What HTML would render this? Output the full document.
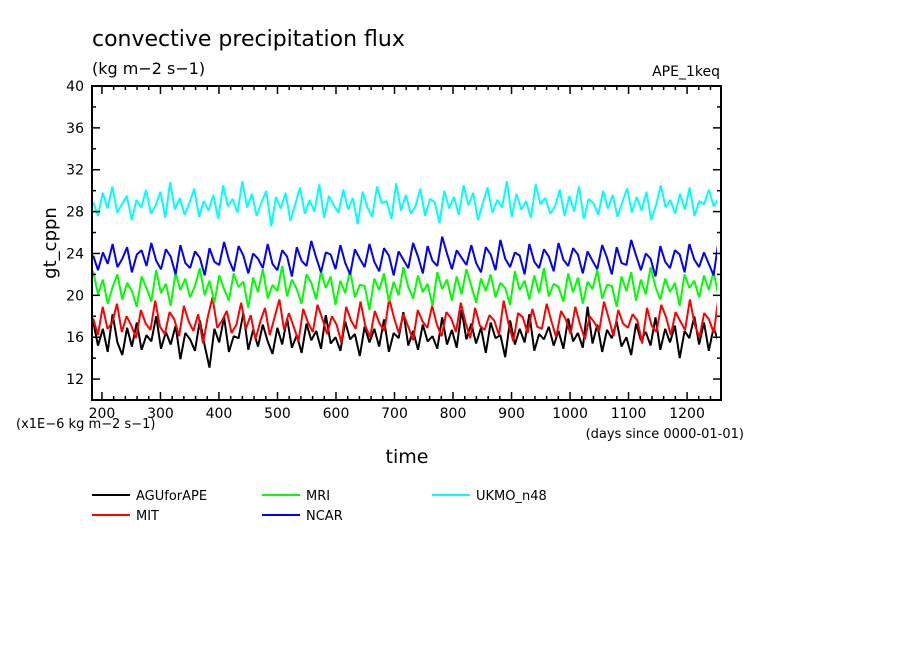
<!DOCTYPE html>
<html><head><meta charset="utf-8"><style>
body{margin:0;background:#fff;width:904px;height:654px;overflow:hidden}
svg{font-family:"DejaVu Sans","Liberation Sans",sans-serif}
</style></head><body>
<svg id="c" width="904" height="654">
<text x="92" y="46" font-size="22">convective precipitation flux</text>
<text x="92" y="74" font-size="16">(kg m−2 s−1)</text>
<text x="720" y="76" font-size="14" text-anchor="end">APE_1keq</text>
<text transform="translate(56,243) rotate(-90)" font-size="18" text-anchor="middle">gt_cppn</text>
<text x="407" y="463" font-size="19" text-anchor="middle">time</text>
<text x="16" y="428" font-size="13">(x1E−6 kg m−2 s−1)</text>
<text x="744" y="438" font-size="13" text-anchor="end">(days since 0000-01-01)</text>
<g id="series"></g>
<g id="axes"></g>
<g id="legend"></g>
</svg>
<script>
const yTicks=[12,16,20,24,28,32,36,40];
const xTicks=[200,300,400,500,600,700,800,900,1000,1100,1200];
const seriesNames=["AGUforAPE","MIT","MRI","NCAR","UKMO_n48"];
const seriesColors=["#000","#f00","#0f0","#00f","#0ff"];
const dayStart=185, dayEnd=1262;
const agu=[17.5,15.2,16.8,14.6,18.2,15.5,14.3,16.9,15.1,17.4,14.8,16.2,15.6,18.0,14.9,16.5,15.3,17.1,13.9,16.4,15.8,14.7,17.6,15.2,13.1,16.8,15.5,17.9,14.6,16.1,15.9,18.3,14.8,16.7,15.1,17.2,15.6,14.4,16.9,15.3,17.8,15.0,16.2,14.5,17.3,15.7,16.6,14.9,18.1,15.4,16.0,14.7,17.5,15.8,16.3,14.2,17.0,15.5,16.8,15.1,17.7,14.6,16.4,15.9,18.4,15.2,16.6,14.8,17.2,15.6,16.1,14.9,17.9,15.3,16.7,15.0,18.6,15.8,17.3,15.4,16.9,14.5,17.4,15.9,16.2,14.1,17.6,15.3,16.8,15.5,18.2,14.7,16.3,15.8,17.0,15.2,16.6,14.9,17.8,15.6,16.4,15.0,18.9,15.4,17.2,14.6,16.7,15.9,17.5,15.1,16.0,14.3,17.3,15.7,16.5,15.2,17.9,14.8,16.8,15.5,17.1,14.0,16.6,15.9,18.0,15.3,17.4,14.7,16.9,15.6,17.7];
const mit=[17.8,16.2,18.9,16.8,17.4,19.2,16.5,18.0,17.1,15.9,18.6,17.3,16.7,19.5,17.0,16.3,18.4,17.7,16.1,19.0,17.5,16.6,18.2,15.4,17.9,19.8,16.9,17.6,18.5,16.4,17.2,19.3,16.8,18.1,15.8,17.5,18.8,16.2,17.9,19.6,16.7,18.3,17.0,15.6,18.7,17.4,16.5,19.1,17.8,16.3,18.0,17.2,15.5,18.9,17.6,16.8,19.4,17.1,16.0,18.5,17.3,16.6,19.7,17.9,16.4,18.2,17.0,15.7,18.6,17.5,16.9,19.0,17.2,16.1,18.4,17.8,16.5,19.3,17.4,15.9,18.8,17.1,16.7,18.1,17.6,16.2,19.5,17.3,15.6,18.3,17.9,16.4,18.7,17.0,16.8,19.2,17.5,16.0,18.5,17.7,16.3,18.9,17.2,15.8,18.0,17.4,16.6,19.4,17.8,16.1,18.6,17.3,16.9,18.2,17.6,15.4,18.8,17.1,16.5,19.1,17.9,16.2,18.4,17.5,16.7,19.6,17.2,16.0,18.3,17.7,16.4,19.9,16.8];
const mri=[22.3,20.1,21.5,19.2,20.8,22.0,19.6,21.2,20.4,18.9,21.8,20.7,19.4,22.4,20.2,21.1,19.0,22.2,20.5,21.6,19.8,20.9,22.6,20.0,21.4,19.3,21.9,20.6,19.5,22.1,20.8,21.3,18.8,21.7,20.3,22.5,19.7,21.0,20.4,22.8,19.9,21.5,20.6,19.2,22.0,21.2,19.6,22.3,20.7,21.8,19.1,21.4,20.2,22.4,19.8,21.0,20.9,18.6,21.6,20.5,22.1,19.4,21.3,20.0,22.7,20.8,19.7,21.9,20.3,21.1,19.0,22.2,20.6,21.5,19.5,21.8,20.1,22.5,20.9,19.3,21.6,20.4,22.0,19.8,21.2,20.7,19.1,22.3,20.5,21.4,19.6,21.9,20.2,22.6,19.9,21.1,20.8,19.4,22.1,20.3,21.7,19.2,21.3,20.6,22.4,19.7,21.0,20.9,18.9,21.8,20.4,22.2,19.5,21.5,20.1,22.7,20.8,19.6,21.6,20.3,21.2,19.0,22.0,20.7,21.4,19.8,21.9,20.5,22.3,19.9,21.1];
const ncar=[23.8,22.4,24.1,23.0,24.9,22.7,23.5,24.6,22.2,23.9,24.3,22.8,25.0,23.3,22.5,24.4,23.7,22.0,24.8,23.1,22.6,24.2,23.6,21.9,24.5,23.2,22.9,25.1,23.4,22.3,24.7,23.8,22.1,24.0,23.5,22.6,24.9,23.0,22.4,24.3,23.7,21.8,24.6,23.3,22.8,25.2,23.6,22.2,24.1,23.9,22.5,24.8,23.1,22.0,24.4,23.5,22.7,24.9,23.2,22.3,24.5,23.8,21.9,24.2,23.4,22.6,25.0,23.7,22.1,24.7,23.3,22.8,25.6,24.0,22.5,24.3,23.6,22.9,24.8,23.1,22.2,24.6,23.9,22.4,25.3,23.5,22.7,24.1,23.8,22.0,24.9,23.2,22.6,24.4,23.7,22.3,25.0,23.4,22.8,24.5,23.9,22.1,24.2,23.3,22.5,24.8,23.6,22.0,24.6,23.1,22.9,25.3,23.8,22.4,24.0,23.5,21.8,24.7,23.2,22.6,24.3,23.9,22.2,24.9,23.4,22.7,24.1,23.0,21.9,25.2,22.1];
const ukmo=[28.9,27.6,29.8,28.3,30.4,27.9,28.7,29.5,27.2,29.1,28.4,30.1,27.8,28.6,29.9,27.4,30.8,28.2,29.3,27.7,28.8,30.2,27.5,29.0,28.1,29.6,27.3,30.5,28.5,29.2,27.9,30.9,28.4,29.7,27.6,28.9,30.0,26.6,29.4,28.3,29.8,27.1,28.7,30.3,27.8,29.1,28.0,30.6,27.4,29.5,28.6,27.9,30.1,28.2,29.3,26.8,29.9,28.4,27.5,30.4,28.8,29.0,27.3,30.7,28.1,29.6,27.8,28.5,30.2,27.6,29.2,28.9,26.9,30.0,28.3,29.4,27.7,30.5,28.6,29.8,27.2,28.8,30.3,27.9,29.1,28.4,30.9,27.5,29.7,28.2,29.0,27.4,30.6,28.7,29.3,27.8,28.5,30.1,27.6,29.5,28.0,30.4,27.3,29.2,28.8,27.7,30.0,28.3,29.6,27.5,28.9,30.2,27.9,29.4,28.1,29.9,27.2,28.6,30.5,28.4,29.1,27.8,29.7,28.2,30.3,27.6,29.0,28.7,30.1,28.5,29.3,28.4];
const seriesData=[agu,mit,mri,ncar,ukmo];
const X0=92,X1=721,Y0=86,Y1=400,dMin=183,dMax=1258,vMin=10,vMax=40;
const sx=d=>X0+(d-dMin)/(dMax-dMin)*(X1-X0);
const sy=v=>Y1-(v-vMin)/(vMax-vMin)*(Y1-Y0);
const NS="http://www.w3.org/2000/svg";
function mk(t,a,p){const e=document.createElementNS(NS,t);for(const k in a)e.setAttribute(k,a[k]);p.appendChild(e);return e;}
const sg=document.getElementById('series');
const clip=mk('clipPath',{id:'cl'},document.getElementById('c'));
mk('rect',{x:X0,y:Y0,width:X1-X0-4,height:Y1-Y0},clip);
sg.setAttribute('clip-path','url(#cl)');
seriesData.forEach((arr,si)=>{
  const step=(dayEnd-dayStart)/(arr.length-1);
  const pts=arr.map((v,i)=>sx(dayStart+i*step).toFixed(1)+','+sy(v).toFixed(1)).join(' ');
  const pl=mk('polyline',{points:pts,fill:'none',stroke:seriesColors[si],'stroke-width':2,'stroke-linejoin':'bevel'},sg);
  
  
});
const ax=document.getElementById('axes');
const fr=mk('rect',{x:X0,y:Y0,width:X1-X0,height:Y1-Y0,fill:'none',stroke:'#000','stroke-width':2},ax);


for(let v=10;v<=40;v+=2){const y=sy(v);const L=(v%4===0)?8:4;
  mk('line',{x1:X0,x2:X0+L,y1:y,y2:y,stroke:'#000','stroke-width':1.5},ax);
  mk('line',{x1:X1,x2:X1-L,y1:y,y2:y,stroke:'#000','stroke-width':1.5},ax);}
yTicks.forEach(v=>{const t=mk('text',{x:X0-8,y:sy(v)+5,'font-size':14,'text-anchor':'end'},ax);t.textContent=v;
  
  });
for(let d=200;d<=dMax;d+=20){const x=sx(d);const L=(d%100===0)?8:4;
  mk('line',{x1:x,x2:x,y1:Y1,y2:Y1-L,stroke:'#000','stroke-width':1.5},ax);
  mk('line',{x1:x,x2:x,y1:Y0,y2:Y0+L,stroke:'#000','stroke-width':1.5},ax);}
xTicks.forEach(d=>{const t=mk('text',{x:sx(d),y:418,'font-size':14,'text-anchor':'middle'},ax);t.textContent=d;
  
  });
const lg=document.getElementById('legend');
const lpos=[[92,495],[92,515],[262,495],[262,515],[432,495]];
seriesNames.forEach((n,i)=>{const g=mk('g',{},lg);
  
  
  const [x,y]=lpos[i];
  mk('line',{x1:x,x2:x+38,y1:y,y2:y,stroke:seriesColors[i],'stroke-width':2},g);
  const t=mk('text',{x:x+44,y:y+5,'font-size':13},g);t.textContent=n;});
</script>
</body></html>
